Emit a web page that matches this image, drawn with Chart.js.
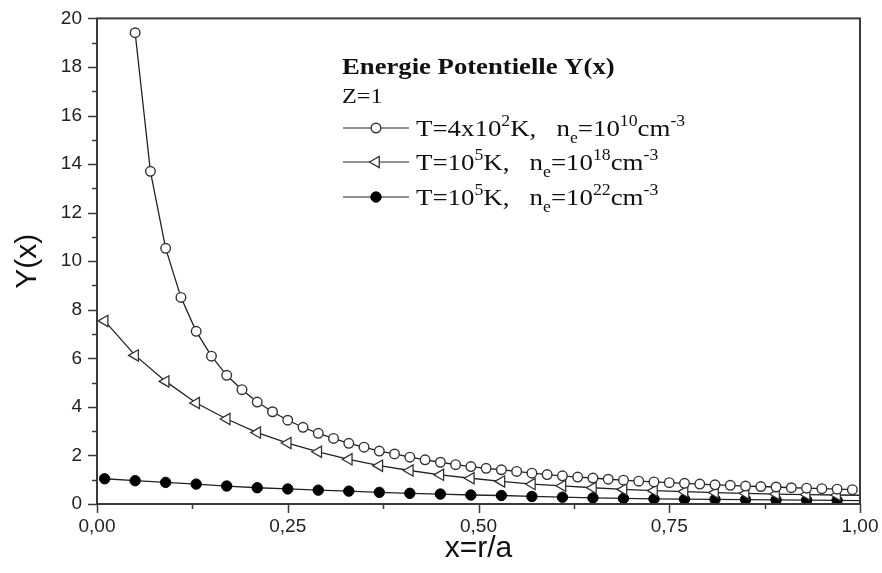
<!DOCTYPE html>
<html>
<head>
<meta charset="utf-8">
<script src="https://cdn.jsdelivr.net/npm/chart.js@4.4.1/dist/chart.umd.min.js"></script>
<style>
  html, body { margin: 0; padding: 0; background: #fff; }
  #wrap { width: 882px; height: 573px; }
</style>
</head>
<body>
<div id="wrap"><canvas id="potChart" width="882" height="573"></canvas></div>
<script>
// --- Data ---
const xCircle = [0.05, 0.07, 0.09, 0.11, 0.13, 0.15, 0.17, 0.19, 0.21, 0.23, 0.25, 0.27,
  0.29, 0.31, 0.33, 0.35, 0.37, 0.39, 0.41, 0.43, 0.45, 0.47, 0.49, 0.51, 0.53, 0.55,
  0.57, 0.59, 0.61, 0.63, 0.65, 0.67, 0.69, 0.71, 0.73, 0.75, 0.77, 0.79, 0.81, 0.83,
  0.85, 0.87, 0.89, 0.91, 0.93, 0.95, 0.97, 0.99];
const yCircle = [19.41, 13.70, 10.53, 8.51, 7.11, 6.09, 5.30, 4.71, 4.20, 3.80, 3.45, 3.16,
  2.91, 2.70, 2.50, 2.34, 2.18, 2.06, 1.93, 1.82, 1.72, 1.62, 1.54, 1.47, 1.41, 1.34,
  1.27, 1.21, 1.16, 1.11, 1.07, 1.02, 0.98, 0.94, 0.91, 0.88, 0.85, 0.82, 0.79, 0.77,
  0.74, 0.72, 0.70, 0.67, 0.65, 0.63, 0.61, 0.59];

const xTriangle = [0.01, 0.05, 0.09, 0.13, 0.17, 0.21, 0.25, 0.29, 0.33, 0.37, 0.41, 0.45,
  0.49, 0.53, 0.57, 0.61, 0.65, 0.69, 0.73, 0.77, 0.81, 0.85, 0.89, 0.93, 0.97, 1.00];
const yTriangle = [7.54, 6.12, 5.05, 4.16, 3.50, 2.94, 2.51, 2.15, 1.84, 1.58, 1.38, 1.20,
  1.06, 0.93, 0.82, 0.75, 0.67, 0.60, 0.55, 0.51, 0.47, 0.44, 0.41, 0.39, 0.37, 0.36];

const xDot = [0.01, 0.05, 0.09, 0.13, 0.17, 0.21, 0.25, 0.29, 0.33, 0.37, 0.41, 0.45,
  0.49, 0.53, 0.57, 0.61, 0.65, 0.69, 0.73, 0.77, 0.81, 0.85, 0.89, 0.93, 0.97, 1.00];
const yDot = [1.04, 0.96, 0.89, 0.82, 0.74, 0.67, 0.62, 0.57, 0.53, 0.48, 0.44, 0.41,
  0.37, 0.35, 0.31, 0.28, 0.25, 0.23, 0.21, 0.20, 0.19, 0.18, 0.17, 0.16, 0.15, 0.14];

const xTickValues = [0, 0.125, 0.25, 0.375, 0.5, 0.625, 0.75, 0.875, 1];
const xTickLabels = ["0,00", "", "0,25", "", "0,50", "", "0,75", "", "1,00"];
const yTickValues = [0, 1, 2, 3, 4, 5, 6, 7, 8, 9, 10, 11, 12, 13, 14, 15, 16, 17, 18, 19, 20];
const yTickLabels = ["0", "", "2", "", "4", "", "6", "", "8", "", "10", "", "12", "", "14", "", "16", "", "18", "", "20"];

// legend text pieces: [text, "n" | "sup" | "sub"]
const legendTitle = "Energie Potentielle Y(x)";
const legendSub = "Z=1";
const legendRows = [
  [["T=4x10", "n"], ["2", "sup"], ["K,   n", "n"], ["e", "sub"], ["=10", "n"], ["10", "sup"], ["cm", "n"], ["-3", "sup"]],
  [["T=10", "n"], ["5", "sup"], ["K,   n", "n"], ["e", "sub"], ["=10", "n"], ["18", "sup"], ["cm", "n"], ["-3", "sup"]],
  [["T=10", "n"], ["5", "sup"], ["K,   n", "n"], ["e", "sub"], ["=10", "n"], ["22", "sup"], ["cm", "n"], ["-3", "sup"]]
];

function toPoints(xs, ys) {
  return xs.map((x, i) => ({ x: x, y: ys[i] }));
}

// last triangle / dot point only carries the line to the right axis
function radiusList(n, r, lastBare) {
  const out = [];
  for (let i = 0; i < n; i++) out.push(lastBare && i === n - 1 ? 0 : r);
  return out;
}

const serif = "'Liberation Serif', 'Times New Roman', serif";
const sans = "'Liberation Sans', Arial, sans-serif";

// the original legend font is wide, so text is stretched a little
function drawRich(ctx, x, y, parts, size, stretch) {
  ctx.save();
  ctx.translate(x, y);
  ctx.scale(stretch, 1);
  let cx = 0;
  parts.forEach(([txt, kind]) => {
    let s = size, dy = 0;
    if (kind === "sup") { s = size * 0.66; dy = -size * 0.42; }
    if (kind === "sub") { s = size * 0.66; dy = size * 0.3; }
    ctx.font = s + "px " + serif;
    ctx.fillText(txt, cx, dy);
    cx += ctx.measureText(txt).width;
  });
  ctx.restore();
}

function drawStretched(ctx, txt, x, y, font, stretch) {
  ctx.save();
  ctx.translate(x, y);
  ctx.scale(stretch, 1);
  ctx.font = font;
  ctx.fillText(txt, 0, 0);
  ctx.restore();
}

// --- frame, ticks and the in-plot legend ---
const framePlugin = {
  id: "frame",
  afterDraw(chart) {
    const ctx = chart.ctx;
    const a = chart.chartArea;
    const xs = chart.scales.x;
    const ys = chart.scales.y;
    ctx.save();
    ctx.strokeStyle = "#3a3a3a";
    ctx.lineWidth = 2;
    ctx.strokeRect(a.left, a.top, a.right - a.left, a.bottom - a.top);

    ctx.lineWidth = 1.5;
    ctx.beginPath();
    xs.ticks.forEach((t) => {
      const px = Math.round(xs.getPixelForValue(t.value)) + 0.5;
      const len = t.label ? 9 : 5;
      ctx.moveTo(px, a.bottom);
      ctx.lineTo(px, a.bottom + len);
    });
    ys.ticks.forEach((t) => {
      const py = Math.round(ys.getPixelForValue(t.value)) + 0.5;
      const len = t.label ? 9 : 5;
      ctx.moveTo(a.left, py);
      ctx.lineTo(a.left - len, py);
    });
    ctx.stroke();

    // legend
    ctx.fillStyle = "#111";
    ctx.textBaseline = "alphabetic";
    drawStretched(ctx, legendTitle, 342, 74, "bold 23px " + serif, 1.16);
    drawStretched(ctx, legendSub, 342, 103, "22px " + serif, 1.1);

    const rowY = [128, 162, 197];
    chart.data.datasets.forEach((ds, i) => {
      const y = rowY[i];
      ctx.strokeStyle = "#222";
      ctx.lineWidth = 1;
      ctx.beginPath();
      ctx.moveTo(343, y);
      ctx.lineTo(409, y);
      ctx.stroke();
      ctx.fillStyle = ds.pointBackgroundColor;
      ctx.strokeStyle = ds.pointBorderColor;
      ctx.lineWidth = ds.pointBorderWidth;
      Chart.helpers.drawPoint(ctx, {
        pointStyle: ds.pointStyle,
        radius: ds.legendRadius,
        rotation: ds.pointRotation || 0,
        borderWidth: ds.pointBorderWidth
      }, 376, y);
      ctx.fillStyle = "#111";
      drawRich(ctx, 416, y + 8, legendRows[i], 24, 1.12);
    });
    ctx.restore();
  }
};

document.addEventListener("DOMContentLoaded", () => {
  const ctx = document.getElementById("potChart");

  new Chart(ctx, {
    type: "scatter",
    data: {
      datasets: [
        {
          label: "circle",
          data: toPoints(xCircle, yCircle),
          showLine: true,
          borderColor: "#222",
          borderWidth: 1.3,
          pointStyle: "circle",
          pointRadius: 4.8,
          legendRadius: 4.8,
          pointBackgroundColor: "#ffffff",
          pointBorderColor: "#333",
          pointBorderWidth: 1.4
        },
        {
          label: "triangle",
          data: toPoints(xTriangle, yTriangle),
          showLine: true,
          borderColor: "#222",
          borderWidth: 1.3,
          pointStyle: "triangle",
          pointRotation: -90,
          pointRadius: radiusList(xTriangle.length, 6.5, true),
          legendRadius: 6.5,
          pointBackgroundColor: "#ffffff",
          pointBorderColor: "#333",
          pointBorderWidth: 1.3
        },
        {
          label: "dot",
          data: toPoints(xDot, yDot),
          showLine: true,
          borderColor: "#222",
          borderWidth: 1.3,
          pointStyle: "circle",
          pointRadius: radiusList(xDot.length, 5.2, true),
          legendRadius: 5.2,
          pointBackgroundColor: "#000",
          pointBorderColor: "#000",
          pointBorderWidth: 1
        }
      ]
    },
    options: {
      responsive: false,
      animation: false,
      layout: { padding: { top: 8, right: 22, left: 0, bottom: 0 } },
      plugins: {
        legend: { display: false },
        tooltip: { enabled: false }
      },
      elements: { line: { tension: 0 } },
      scales: {
        x: {
          type: "linear",
          min: 0,
          max: 1,
          afterBuildTicks: (scale) => {
            scale.ticks = xTickValues.map((v) => ({ value: v }));
          },
          afterFit: (scale) => { scale.height = 69; },
          grid: { display: false },
          border: { display: false },
          ticks: {
            autoSkip: false,
            maxRotation: 0,
            padding: 3,
            color: "#222",
            font: { family: sans, size: 19 },
            callback: (v, i) => xTickLabels[i]
          },
          title: {
            display: true,
            text: "x=r/a",
            color: "#111",
            font: { family: sans, size: 30 },
            padding: { top: 0, bottom: 6 }
          }
        },
        y: {
          type: "linear",
          min: 0,
          max: 20,
          afterBuildTicks: (scale) => {
            scale.ticks = yTickValues.map((v) => ({ value: v }));
          },
          afterFit: (scale) => { scale.width = 97; },
          grid: { display: false },
          border: { display: false },
          ticks: {
            autoSkip: false,
            padding: 7,
            color: "#222",
            font: { family: sans, size: 19 },
            callback: (v, i) => yTickLabels[i]
          },
          title: {
            display: true,
            text: "Y(x)",
            color: "#111",
            font: { family: sans, size: 30 },
            padding: { top: 10, bottom: 0 }
          }
        }
      }
    },
    plugins: [framePlugin]
  });
});
</script>
</body>
</html>
